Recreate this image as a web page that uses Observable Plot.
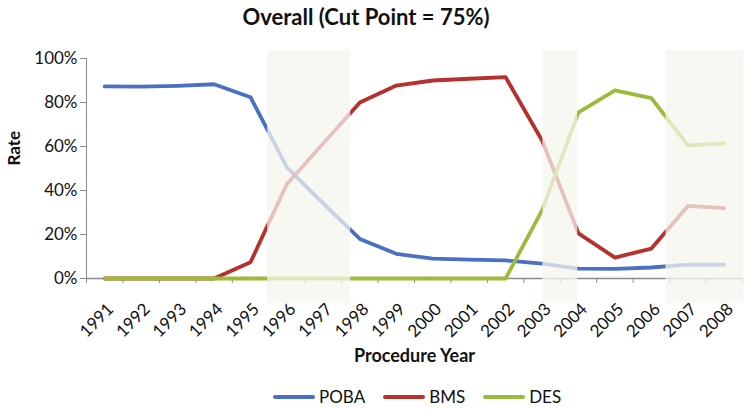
<!DOCTYPE html>
<html>
<head>
<meta charset="utf-8">
<script src="https://cdn.jsdelivr.net/npm/d3@7"></script>
<script src="https://cdn.jsdelivr.net/npm/@observablehq/plot@0.6"></script>
<style>
  body { margin: 0; background: #fff; font-family: Lato, "Open Sans", sans-serif; color: #111; }
  #wrap { position: relative; width: 750px; height: 409px; overflow: hidden; }
  #title { position: absolute; top: 3px; left: 0; width: 732px; text-align: center; font-weight: bold; font-size: 22px; }
  #chart { position: absolute; top: 38px; left: 0; }
  #legend { position: absolute; top: 386px; left: 273px; display: flex; align-items: center; font-size: 17px; }
  .item { display: flex; align-items: center; margin-right: 18px; }
  .sw { width: 42px; height: 4px; border-radius: 2px; margin-right: 4px; }
</style>
</head>
<body>
<div id="wrap">
  <div id="title">Overall (Cut Point = 75%)</div>
  <div id="chart"></div>
  <div id="legend"></div>
</div>
<script>
const years = [1991,1992,1993,1994,1995,1996,1997,1998,1999,2000,2001,2002,2003,2004,2005,2006,2007,2008];
const poba = [0.873,0.872,0.876,0.883,0.824,0.505,0.34,0.18,0.112,0.09,0.086,0.082,0.068,0.045,0.044,0.05,0.063,0.063];
const bms  = [0,0,0,0,0.074,0.43,0.615,0.80,0.877,0.90,0.908,0.915,0.627,0.205,0.095,0.136,0.33,0.32];
const des  = [0,0,0,0,0,0,0,0,0,0,0,0,0.31,0.755,0.855,0.82,0.605,0.614];
const seriesNames = ["POBA","BMS","DES"];
const seriesColors = ["#4a70c4","#b5312e","#9dbb3b"];
const shadeStart = [1995.47, 2003.02, 2006.4];
const shadeEnd   = [1997.75, 2003.98, 2008.55];
const yTicks = [0,0.2,0.4,0.6,0.8,1];

const rows = [];
[poba,bms,des].forEach((arr,i) => arr.forEach((v,j) => rows.push({series: seriesNames[i], year: years[j], value: v})));
const shades = shadeStart.map((s,i) => ({x1: s, x2: shadeEnd[i]}));
const boundaries = d3.range(years[0]-0.5, years[years.length-1]+0.51, 1);

const plot = Plot.plot({
  width: 750,
  height: 337,
  marginLeft: 86,
  marginRight: 8,
  marginTop: 20,
  marginBottom: 97,
  style: {fontFamily: "Lato, 'Open Sans', sans-serif", fontSize: "17px", color: "#111", background: "#fff"},
  x: {type: "linear", domain: [years[0]-0.5, years[years.length-1]+0.5]},
  y: {domain: [0,1]},
  color: {domain: seriesNames, range: seriesColors},
  marks: [
    Plot.ruleX([years[0]-0.5], {y1: 0, y2: 1, stroke: "#8a8a8a", strokeWidth: 1}),
    Plot.ruleY([0], {x1: years[0]-0.5, x2: years[years.length-1]+0.5, stroke: "#8a8a8a", strokeWidth: 1.5}),
    Plot.axisY({ticks: yTicks, tickFormat: d3.format(".0%"), tickSize: 6, tickPadding: 3, stroke: "#8a8a8a", label: null}),
    Plot.axisX({ticks: boundaries, tickSize: 5, tickFormat: () => "", stroke: "#8a8a8a", label: null}),
    Plot.axisX({ticks: years, tickSize: 0, tickPadding: 0, tickFormat: d => String(d), tickRotate: -45, textAnchor: "end", lineAnchor: "middle", dx: 6, dy: 28, label: null}),
    Plot.line(rows, {x: "year", y: "value", z: "series", stroke: "series", strokeWidth: 3.8, strokeLinejoin: "round"}),
    Plot.rect(shades, {x1: "x1", x2: "x2", y1: -0.114, y2: 1.036, fill: "#f6f5ef", fillOpacity: 0.74, clip: false}),
    Plot.text(["Rate"], {frameAnchor: "left", dx: -72, dy: -3, rotate: -90, fontWeight: "bold", fontSize: 17, fill: "#111"}),
    Plot.text(["Procedure Year"], {frameAnchor: "bottom", dy: 83, fontWeight: "bold", fontSize: 18, fill: "#111"})
  ]
});
document.getElementById("chart").appendChild(plot);

const legend = document.getElementById("legend");
seriesNames.forEach((n,i) => {
  const it = document.createElement("div");
  it.className = "item";
  it.innerHTML = `<span class="sw" style="background:${seriesColors[i]}"></span><span>${n}</span>`;
  legend.appendChild(it);
});
</script>
</body>
</html>
